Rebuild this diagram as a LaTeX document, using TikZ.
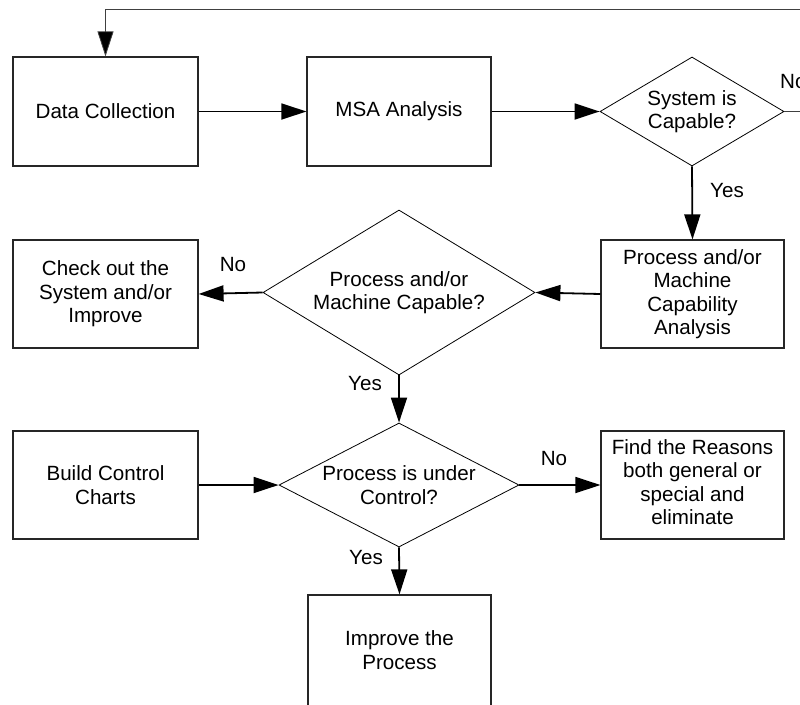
\documentclass[tikz,border=0pt]{standalone}
\usepackage{fontspec}
\setmainfont{Liberation Sans}
\usetikzlibrary{shapes.geometric,arrows.meta}
\newcommand\flowfont{\fontsize{20.6}{23.4}\selectfont}
\begin{document}
\begin{tikzpicture}[x=1pt,y=-1pt,
  box/.style={draw=black!85, line width=1.2pt, rectangle, inner sep=0pt, align=center, font=\flowfont},
  dia/.style={draw=black, line width=0.8pt, diamond, inner sep=0pt},
  diatext/.style={align=center, font=\flowfont, inner sep=0pt},
  lbl/.style={font=\flowfont, inner sep=0pt},
  conn/.style={draw=black, line width=1.8pt, -{Triangle[length=25pt,width=16pt]}},
  feed/.style={draw=black!75, line width=0.8pt, -{Triangle[length=25pt,width=16pt,fill=black]}}
]
\useasboundingbox (0,0) rectangle (800,704);
\clip (0,0) rectangle (800,704);

% boxes
\node[box, minimum width=185pt, minimum height=109pt] (dc) at (105.5,111.5) {Data Collection};
\node[box, minimum width=184pt, minimum height=109pt] (msa) at (399,111.5) {MSA Analysis};
\node[dia, minimum width=184pt, minimum height=109pt] (sys) at (692,111.5) {};
\node[diatext] at (sys.center) {System is\\Capable?};

\node[box, minimum width=183pt, minimum height=108pt] (pmc) at (692.5,294) {Process and/or\\Machine\\Capability\\Analysis};
\node[dia, minimum width=272pt, minimum height=165pt] (cap) at (399,292.5) {};
\node[diatext] at (cap.center) {Process and/or\\Machine Capable?};
\node[box, minimum width=185pt, minimum height=108pt] (chk) at (105.5,294) {Check out the\\System and/or\\Improve};

\node[dia, minimum width=240pt, minimum height=124pt] (ctl) at (399,485) {};
\node[diatext] at (ctl.center) {Process is under\\Control?};
\node[box, minimum width=185pt, minimum height=108pt] (bcc) at (105.5,485) {Build Control\\Charts};
\node[box, minimum width=183pt, minimum height=108pt] (fnd) at (692.5,485) {\raisebox{5pt}{\begin{tabular}{@{}c@{}}Find the Reasons\\both general or\\special and\\eliminate\end{tabular}}};

\node[box, minimum width=183pt, minimum height=116pt] (imp) at (399.5,653) {};
\node[diatext] at (399.5,650) {Improve the\\Process};

% connectors
\draw[conn] (dc.east) -- (msa.west);
\draw[conn] (msa.east) -- (sys.west);
\draw[conn] (sys.south) -- (pmc.north);
\draw[conn] (pmc.west) -- (cap.east);
\draw[conn] (cap.west) -- (chk.east);
\draw[conn] (cap.south) -- (ctl.north);
\draw[conn] (bcc.east) -- (ctl.west);
\draw[conn] (ctl.east) -- (fnd.west);
\draw[conn] (ctl.south) -- (imp.north);

\coordinate (fb) at (830,9);
\draw[feed] (sys.east) -| (fb) -| (dc.north);

% labels
\node[lbl, anchor=west] at (780,82) {No};
\node[lbl] at (727,191) {Yes};
\node[lbl] at (233,265) {No};
\node[lbl] at (365,384) {Yes};
\node[lbl] at (554,459) {No};
\node[lbl] at (366,558) {Yes};
\end{tikzpicture}
\end{document}
